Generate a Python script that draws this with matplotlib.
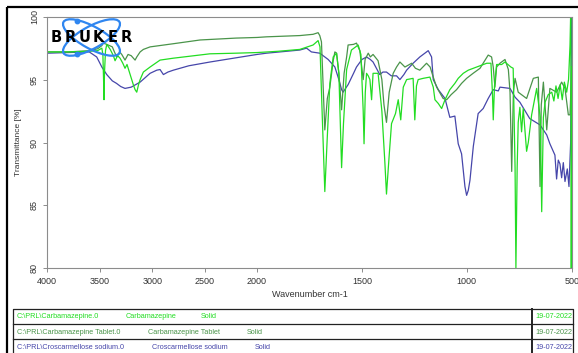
import numpy as np
import matplotlib
matplotlib.use("Agg")
from matplotlib import pyplot as plt
from matplotlib.patches import Ellipse

plt.rcParams['font.family'] = ['Liberation Sans', 'DejaVu Sans']

# Carbamazepine (bright green)
cbz_wn = [4000, 3800, 3600, 3520, 3480, 3470, 3462, 3459, 3455, 3445, 3433, 3400, 3370, 3354,
          3330, 3306, 3280, 3259, 3240, 3210, 3180, 3163, 3147, 3130, 3115, 3084, 3020, 2925,
          2800, 2600, 2450, 2200, 2000, 1900, 1796, 1733, 1709, 1700, 1690, 1677, 1665, 1653,
          1637, 1621, 1610, 1597, 1588, 1573, 1550, 1518, 1505, 1494, 1490, 1484, 1478, 1470,
          1462, 1454, 1447, 1423, 1405, 1391, 1383, 1370, 1359, 1340, 1327, 1315, 1303, 1287,
          1256, 1248, 1240, 1232, 1208, 1176, 1160, 1152, 1136, 1120, 1104, 1081, 1057, 1041,
          1017, 993, 953, 905, 885, 878, 874, 868, 858, 834, 818, 790, 779, 770, 766, 760,
          755, 747, 739, 731, 715, 707, 691, 667, 650, 643, 635, 627, 612, 595, 585, 575,
          565, 555, 545, 535, 524, 515, 508, 504, 502, 500]
cbz_t = [97.2, 97.2, 97.25, 97.3, 97.5, 97.0, 94.5, 93.4, 95.5, 97.3, 97.8, 97.4, 96.9, 96.5,
         96.9, 96.7, 96.3, 95.9, 96.2, 95.4, 94.6, 94.2, 94.0, 94.6, 95.0, 95.6, 96.0, 96.55,
         96.7, 96.9, 97.05, 97.1, 97.15, 97.25, 97.4, 97.75, 98.1, 97.6, 92.5, 86.1, 90.5, 94.7,
         96.8, 97.1, 95.5, 88.0, 91.5, 95.8, 97.35, 97.75, 97.0, 92.5, 89.9, 94.0, 95.5, 95.3,
         95.0, 93.4, 95.5, 95.5, 92.5, 88.5, 85.9, 89.0, 91.5, 92.3, 93.4, 91.8, 94.4, 95.0,
         95.1, 91.8, 94.5, 95.0, 95.1, 95.2, 94.4, 93.4, 93.1, 92.7, 93.4, 94.2, 94.7, 95.1,
         95.5, 95.75, 96.0, 96.3, 96.3, 94.0, 91.8, 94.5, 96.2, 96.2, 96.4, 96.0, 95.9, 88.0, 80.0, 88.0,
         91.6, 92.8, 90.85, 92.7, 89.3, 90.0, 92.2, 94.3, 92.0, 84.5, 92.0, 93.2, 93.8, 94.0, 93.3, 94.5,
         93.5, 94.6, 93.4, 94.8, 94.0, 95.0, 97.75, 101.0, 79.0, 96.0]

# Carbamazepine Tablet (dark green)
tab_wn = [4000, 3800, 3600, 3520, 3480, 3466, 3433, 3380, 3360, 3338, 3310, 3290, 3259, 3230,
          3200, 3163, 3147, 3115, 3084, 3020, 2800, 2543, 2200, 2000, 1955, 1796, 1733, 1709,
          1701, 1693, 1685, 1677, 1665, 1653, 1637, 1629, 1621, 1610, 1597, 1585, 1573, 1566,
          1540, 1526, 1510, 1494, 1485, 1470, 1460, 1447, 1423, 1405, 1395, 1383, 1370, 1351,
          1335, 1319, 1295, 1263, 1245, 1224, 1192, 1175, 1160, 1144, 1113, 1096, 1075, 1049,
          1025, 1001, 970, 937, 898, 882, 874, 866, 858, 842, 818, 802, 794, 786, 778, 770,
          755, 715, 683, 659, 651, 645, 635, 619, 604, 572, 548, 532, 516, 508, 502, 500]
tab_t = [97.2, 97.2, 97.3, 97.45, 97.7, 97.9, 97.8, 97.6, 97.2, 96.8, 97.2, 97.0, 96.55, 97.0,
         96.9, 96.55, 96.8, 97.2, 97.4, 97.6, 97.85, 98.15, 98.3, 98.35, 98.4, 98.5, 98.6, 98.73,
         98.5, 98.0, 94.5, 91.0, 93.5, 94.4, 96.5, 97.2, 97.1, 95.5, 92.6, 95.5, 96.8, 97.75,
         97.8, 97.9, 97.3, 95.0, 96.6, 97.1, 96.8, 97.0, 96.5, 95.0, 93.0, 91.6, 94.0, 95.5,
         96.0, 96.4, 96.0, 96.3, 95.9, 95.75, 96.3, 96.0, 95.2, 94.4, 93.5, 93.4, 93.8, 94.2,
         94.7, 95.1, 95.5, 95.9, 96.95, 96.8, 96.0, 94.4, 96.0, 96.3, 96.6, 95.8, 94.0, 87.7, 94.0, 95.1,
         94.0, 93.5, 95.1, 95.2, 86.5, 93.0, 94.8, 91.0, 94.3, 94.0, 94.8, 94.3, 92.2, 92.2, 95.0, 96.0]

# Croscarmellose sodium (blue)
ccs_wn = [4000, 3800, 3600, 3529, 3480, 3433, 3380, 3340, 3300, 3259, 3200, 3115, 3020, 2956,
          2925, 2893, 2850, 2798, 2650, 2448, 2225, 2000, 1955, 1796, 1764, 1741, 1701, 1661,
          1629, 1610, 1597, 1590, 1566, 1540, 1526, 1500, 1478, 1460, 1447, 1415, 1400, 1383,
          1360, 1335, 1319, 1300, 1287, 1256, 1224, 1200, 1184, 1168, 1160, 1136, 1104, 1081,
          1057, 1041, 1025, 1009, 1001, 993, 985, 969, 946, 922, 898, 874, 850, 842, 818, 794,
          770, 747, 700, 651, 619, 604, 580, 572, 564, 556, 548, 540, 532, 521, 513, 505, 502, 500]
ccs_t = [97.1, 97.15, 97.2, 96.8, 96.0, 95.4, 94.9, 94.7, 94.45, 94.3, 94.4, 94.8, 95.5, 95.75,
         95.8, 95.4, 95.6, 95.75, 96.1, 96.4, 96.7, 97.0, 97.1, 97.35, 97.5, 97.2, 97.1, 96.6,
         96.0, 95.0, 94.2, 94.0, 94.6, 95.5, 96.0, 96.6, 96.8, 96.6, 96.4, 95.4, 95.6, 95.6,
         95.3, 95.3, 95.0, 95.4, 95.75, 96.3, 96.8, 97.1, 97.3, 96.8, 95.0, 94.2, 93.5, 92.0,
         92.1, 89.9, 89.1, 86.5, 85.8, 86.2, 87.0, 89.7, 92.3, 92.7, 93.5, 94.2, 94.1, 94.4, 94.35, 94.3,
         93.6, 93.2, 91.9, 91.4, 90.6, 89.9, 89.0, 87.1, 88.6, 88.3, 87.2, 88.4, 86.9, 87.9, 86.5, 90.0, 97.0, 101.0]

xticks = [4000, 3500, 3000, 2500, 2000, 1500, 1000, 500]
yticks = [80, 85, 90, 95, 100]

rows = [("C:\\PRL\\Carbamazepine.0", "Carbamazepine", "Solid"),
        ("C:\\PRL\\Carbamazepine Tablet.0", "Carbamazepine Tablet", "Solid"),
        ("C:\\PRL\\Croscarmellose sodium.0", "Croscarmellose sodium", "Solid")]
row_date = "19-07-2022"

c_cbz = '#22dd22'
c_tab = '#4a944a'
c_ccs = '#4646aa'


def fwd(w):
    w = np.asarray(w, dtype=float)
    return np.where(w > 2000, 2000 + (w - 2000) / 2.0, w)


def inv(f):
    f = np.asarray(f, dtype=float)
    return np.where(f > 2000, 2000 + (f - 2000) * 2.0, f)


fig = plt.figure(figsize=(5.78, 3.53), dpi=100)
ax = fig.add_axes([47.3 / 578, 1 - 268.3 / 353, 524.4 / 578, 251.6 / 353])
ax.set_xscale('function', functions=(fwd, inv))

ax.plot(ccs_wn, ccs_t, color=c_ccs, lw=0.9)
ax.plot(tab_wn, tab_t, color=c_tab, lw=0.9)
ax.plot(cbz_wn, cbz_t, color=c_cbz, lw=0.9)

ax.set_xlim(4000, 500)
ax.set_ylim(80, 100)
ax.set_xticks(xticks)
ax.set_xticklabels([str(t) for t in xticks])
ax.set_yticks(yticks)
ax.set_yticklabels([str(t) for t in yticks], rotation=90, va='center')
ax.minorticks_off()
for s in ax.spines.values():
    s.set_color('#8c8c8c')
    s.set_linewidth(0.8)
ax.tick_params(direction='out', length=3, width=0.7, color='#8c8c8c',
               labelsize=6.5, labelcolor='#333333', pad=3)
ax.set_xlabel('Wavenumber cm-1', fontsize=6.5, color='#333333')
ax.xaxis.set_label_coords(0.5, -0.085)
ax.set_ylabel('Transmittance [%]', fontsize=6, color='#333333')
ax.yaxis.set_label_coords(-0.048, 0.5)

# overlay in pixel units for frame, logo and table
ov = fig.add_axes([0, 0, 1, 1], zorder=5)
ov.set_xlim(0, 578)
ov.set_ylim(353, 0)
ov.axis('off')

ov.plot([6.5, 6.5], [6.5, 353], color='black', lw=1.6, solid_capstyle='butt')
ov.plot([6.5, 578], [6.5, 6.5], color='black', lw=1.6, solid_capstyle='butt')

# BRUKER logo
for ang in (29, -29):
    ov.add_patch(Ellipse((91.5, 37.5), 64, 22, angle=ang, fill=False,
                         edgecolor='#2f86f0', lw=1.6))
ov.plot([77.3, 77.3], [21, 53.5], 'o', color='#2f86f0', ms=3.2)
for i, ch in enumerate("BRUKER"):
    ov.text(56.5 + i * 14.0, 37.8, ch, fontsize=10.5, fontweight='heavy', color='black',
            ha='center', va='center', family=['DejaVu Sans'])

# table
tl, tr, tt, tb = 13, 572.7, 309, 355
ov.plot([tl, tr, tr, tl, tl], [tb, tb, tt, tt, tb], color='#222222', lw=0.9)
for yl in (324, 339):
    ov.plot([tl, tr], [yl, yl], color='#222222', lw=0.9)
ov.plot([532.3, 532.3], [tt, tb], color='#222222', lw=1.4)
row_colors = [c_cbz, c_tab, c_ccs]
row_y = [317, 332, 347.5]
name_x = [125.5, 147.7, 152]
solid_x = [201, 246.7, 254.8]
for k in range(3):
    path, name, state = rows[k]
    ov.text(16.6, row_y[k], path, fontsize=5.2, color=row_colors[k], va='center')
    ov.text(name_x[k], row_y[k], name, fontsize=5.2, color=row_colors[k], va='center')
    ov.text(solid_x[k], row_y[k], state, fontsize=5.2, color=row_colors[k], va='center')
    ov.text(535.5, row_y[k], row_date, fontsize=5.2, color=row_colors[k], va='center',
            clip_on=True)

fig.savefig('out.png', dpi=100)
